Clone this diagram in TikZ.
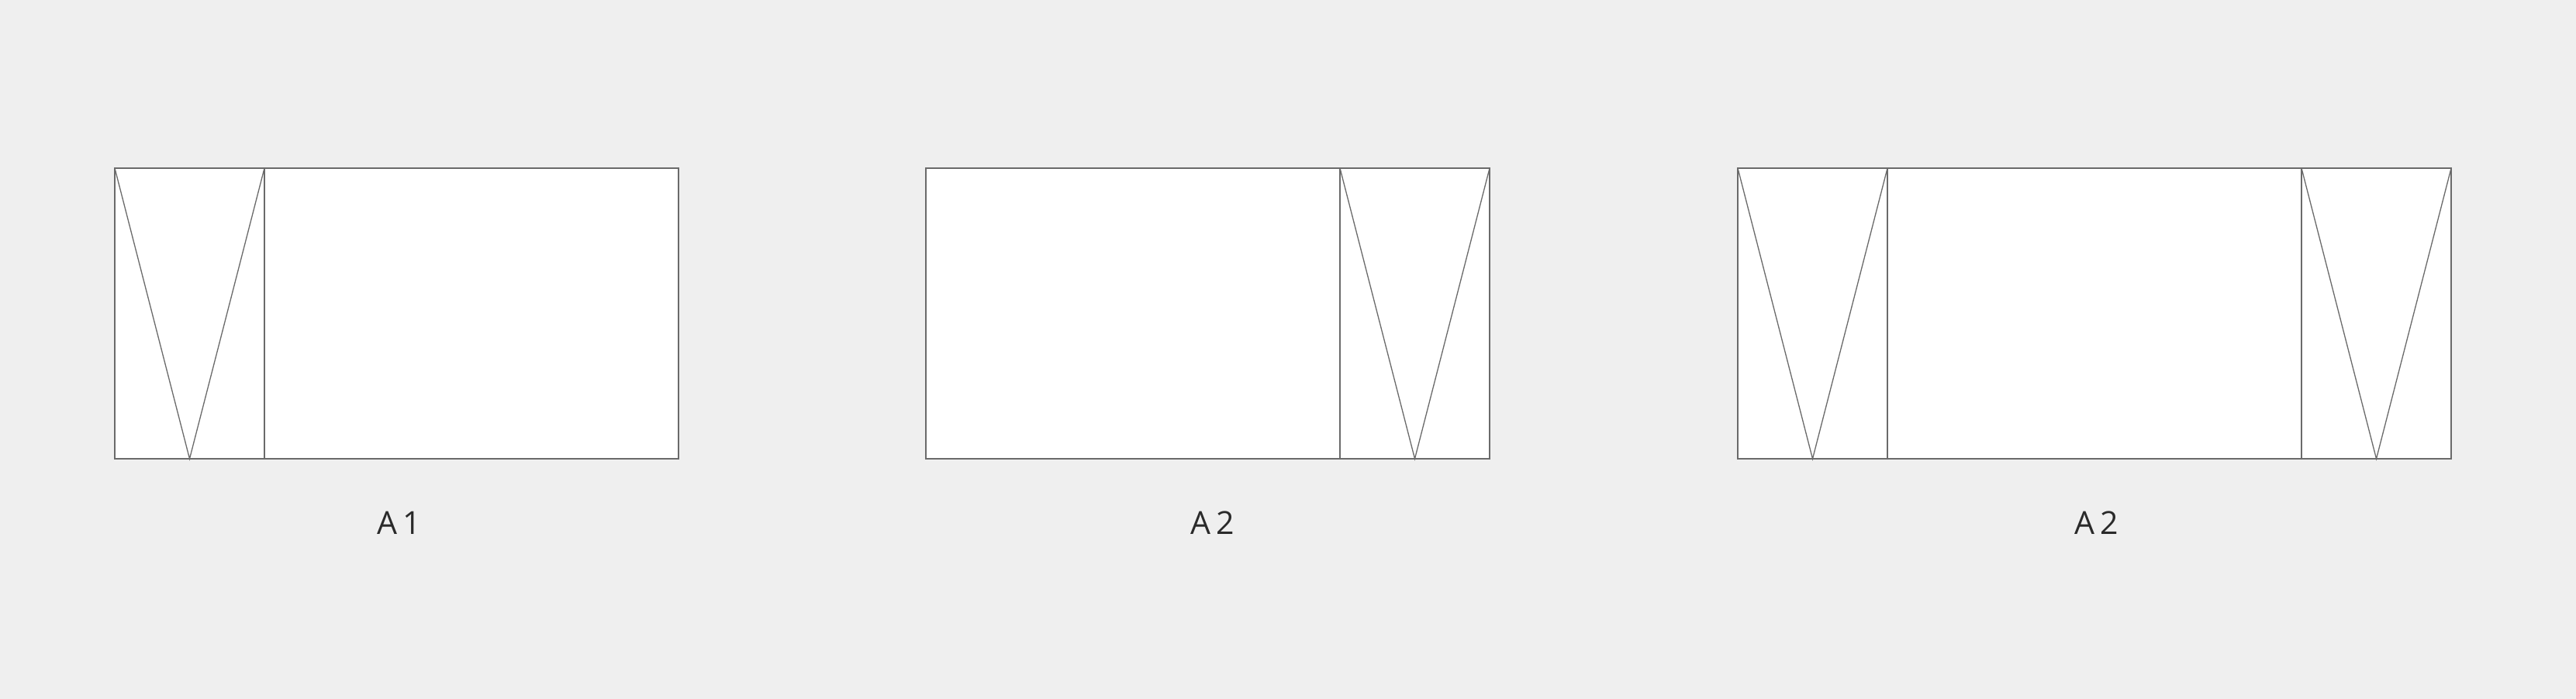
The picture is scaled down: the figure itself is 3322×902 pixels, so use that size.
\documentclass[tikz,border=0pt]{standalone}
\usepackage{fontspec}
\setmainfont{Open Sans}[LetterSpace=18]
\definecolor{bg}{HTML}{EFEFEF}
\definecolor{ln}{HTML}{6A6A6A}
\definecolor{tx}{HTML}{2A2A2A}
\begin{document}
\begin{tikzpicture}[x=1pt,y=-1pt,
  panel/.style={draw=ln,fill=white,line width=1.6pt},
  fold/.style={draw=ln,line width=1.6pt},
  diag/.style={draw=ln,line width=1.3pt},
  lbl/.style={text=tx,font=\fontsize{41}{41}\selectfont,inner sep=0pt,anchor=base}]
\fill[bg] (0,0) rectangle (3322,902);
\useasboundingbox (0,0) rectangle (3322,902);
% Panel 1
\draw[panel] (148,217) rectangle (875,592);
\draw[fold] (341,217) -- (341,592);
\draw[diag] (148,217) -- (244.5,592) -- (341,217);
\node[lbl] (a1) at (515,689) {A1};
% Panel 2
\draw[panel] (1194,217) rectangle (1921,592);
\draw[fold] (1728,217) -- (1728,592);
\draw[diag] (1728,217) -- (1824.5,592) -- (1921,217);
\node[lbl] (a2) at (1564,689) {A2};
% Panel 3
\draw[panel] (2241,217) rectangle (3161,592);
\draw[fold] (2434,217) -- (2434,592);
\draw[fold] (2968,217) -- (2968,592);
\draw[diag] (2241,217) -- (2337.5,592) -- (2434,217);
\draw[diag] (2968,217) -- (3064.5,592) -- (3161,217);
\node[lbl] (a3) at (2704,689) {A2};
\end{tikzpicture}
\end{document}
